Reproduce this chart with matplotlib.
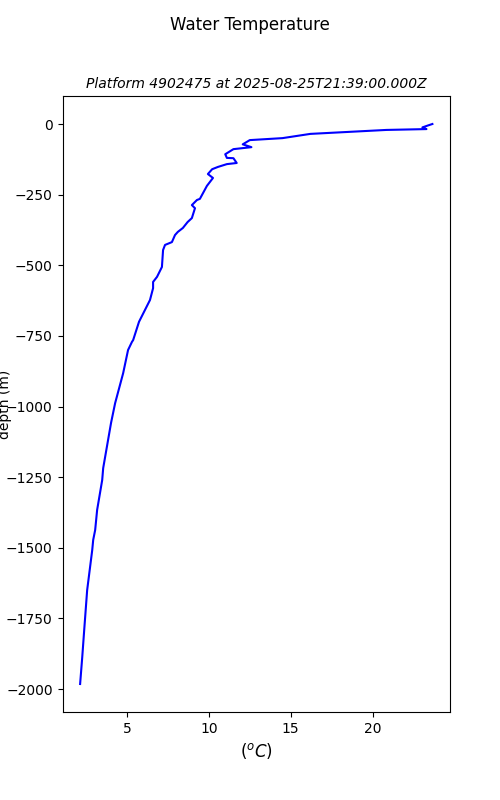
import matplotlib
matplotlib.use("Agg")
import matplotlib.pyplot as plt

# temperature profile (deg C vs depth in m)
temp = [23.66, 23.4, 23.05, 23.3, 20.85, 16.2, 14.5, 12.5, 12.07, 12.6, 11.5,
        11.0, 11.1, 11.5, 11.7, 11.1, 10.55, 10.2, 9.94, 10.25, 9.88, 9.45,
        9.27, 8.96, 9.15, 8.96, 8.7, 8.41, 8.1, 7.93, 7.74, 7.32, 7.2, 7.13,
        6.83, 6.59, 6.59, 6.4, 5.73, 5.37, 5.3, 5.06, 4.76, 4.27, 4.02, 3.54,
        3.48, 3.17, 3.05, 2.93, 2.87, 2.56, 2.38, 2.26, 2.13]
depth = [0, -5, -12, -18, -21, -35, -50, -57, -72, -82, -89,
         -107, -120, -121, -138, -142, -152, -160, -177, -191, -219, -265,
         -269, -287, -298, -333, -347, -368, -382, -393, -418, -428, -446, -506,
         -541, -559, -581, -623, -700, -765, -771, -800, -882, -988, -1058, -1218,
         -1260, -1366, -1437, -1472, -1508, -1650, -1791, -1887, -1982]

fig, ax = plt.subplots(figsize=(5, 8), dpi=100)
fig.suptitle("Water Temperature")
ax.plot(temp, depth, color="b")
ax.set_title("Platform 4902475 at 2025-08-25T21:39:00.000Z", fontsize=10, style="italic")
ax.set_xlabel(r"$(^oC)$", fontsize=12)
ax.set_ylabel("depth (m)")
ax.yaxis.set_label_coords(-0.13, 0.5)
plt.savefig("out.png")
